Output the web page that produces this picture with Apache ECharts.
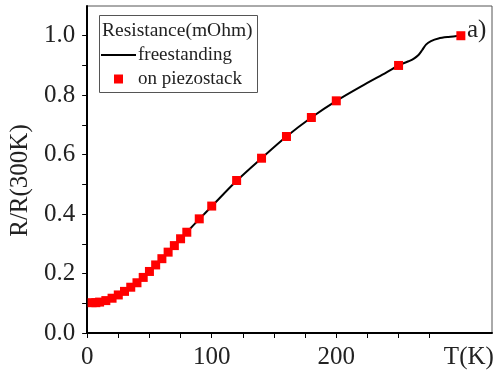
<!DOCTYPE html>
<html>
<head>
<meta charset="utf-8">
<script src="https://cdn.jsdelivr.net/npm/echarts@6/dist/echarts.min.js"></script>
<style>
  html, body { margin: 0; padding: 0; background: #fff; }
  #chart { width: 497px; height: 374px; }
</style>
</head>
<body>
<div id="chart"></div>
<script>
// freestanding sample (black line)
const LINE_T = [2, 10, 20, 30, 40, 50, 60, 70, 80, 90, 100, 120, 140, 160, 180, 200, 220, 240, 252, 258, 262, 266, 269, 272, 276, 282, 290, 300];
const LINE_R = [0.100, 0.103, 0.117, 0.140, 0.170, 0.207, 0.250, 0.294, 0.339, 0.383, 0.426, 0.512, 0.588, 0.661, 0.725, 0.781, 0.830, 0.876, 0.904, 0.914, 0.922, 0.935, 0.952, 0.970, 0.982, 0.991, 0.996, 1.000];

// on piezostack (red squares)
const PIEZO_T = [4, 7, 10, 15, 20, 25, 30, 35, 40, 45, 50, 55, 60, 65, 70, 75, 80, 90, 100, 120, 140, 160, 180, 200, 250, 300];
const PIEZO_R = [0.102, 0.102, 0.104, 0.109, 0.117, 0.128, 0.140, 0.154, 0.169, 0.187, 0.207, 0.229, 0.250, 0.272, 0.294, 0.317, 0.339, 0.384, 0.427, 0.513, 0.588, 0.661, 0.725, 0.781, 0.900, 1.000];

const X_LABELS = [0, 100, 200, 300];
const X_TICKS = [0, 25, 50, 75, 100, 125, 150, 175, 200, 225, 250, 275];
const Y_LABELS = [0, 0.2, 0.4, 0.6, 0.8, 1.0];
const Y_TICKS = [0, 0.1, 0.2, 0.3, 0.4, 0.5, 0.6, 0.7, 0.8, 0.9, 1.0];

const SERIF = '"Liberation Serif", "Times New Roman", "DejaVu Serif", serif';

const chart = echarts.init(document.getElementById('chart'));
chart.setOption({
  animation: false,
  backgroundColor: '#fff',
  grid: {
    left: 85, right: 5, top: 6, bottom: 41,
    show: true, borderColor: '#555', borderWidth: 1
  },
  xAxis: {
    type: 'value', min: 0, max: 325,
    axisLine: { lineStyle: { color: '#000', width: 2 } },
    axisTick: { customValues: X_TICKS, length: 5, lineStyle: { color: '#000', width: 1 } },
    axisLabel: {
      customValues: X_LABELS,
      margin: 12,
      fontFamily: SERIF, fontSize: 25, color: '#222',
      formatter: v => v === 300 ? '{u|T(K)}' : String(v),
      rich: { u: { fontFamily: SERIF, fontSize: 25, color: '#222', padding: [0, 0, 0, 16] } }
    },
    splitLine: { show: false }
  },
  yAxis: {
    type: 'value', min: 0, max: 1.1,
    name: 'R/R(300K)', nameLocation: 'middle', nameGap: 48,
    nameTextStyle: { fontFamily: SERIF, fontSize: 25, color: '#222', padding: [0, 22, 0, 0] },
    axisLine: { lineStyle: { color: '#000', width: 2 } },
    axisTick: { customValues: Y_TICKS, length: 5, lineStyle: { color: '#000', width: 1 } },
    axisLabel: {
      customValues: Y_LABELS,
      margin: 12,
      fontFamily: SERIF, fontSize: 25, color: '#222',
      formatter: v => v.toFixed(1)
    },
    splitLine: { show: false }
  },
  legend: {
    orient: 'vertical', left: 101, top: 44, padding: 0,
    itemWidth: 35, itemHeight: 9, itemGap: 2,
    textStyle: { fontFamily: SERIF, fontSize: 19, color: '#222', lineHeight: 22, padding: [0, 0, 0, -3] },
    data: [
      { name: 'freestanding', icon: 'path://M0 0H35V2H0Z', itemStyle: { color: '#000', opacity: 1 } },
      { name: 'on piezostack', icon: 'path://M0 0H9V9H0Z', itemStyle: { color: '#ff0000', opacity: 1 } }
    ]
  },
  graphic: [
    { type: 'rect', shape: { x: 99.5, y: 15.5, width: 158, height: 77 },
      style: { fill: 'none', stroke: '#555', lineWidth: 1 }, z: 10 },
    { type: 'text', x: 102, y: 31,
      style: { text: 'Resistance(mOhm)', font: '19.5px "Liberation Serif", "Times New Roman", serif', fill: '#222', verticalAlign: 'middle' }, z: 10 },
    { type: 'text', x: 467, y: 30,
      style: { text: 'a)', font: '25px "Liberation Serif", "Times New Roman", serif', fill: '#222', verticalAlign: 'middle' }, z: 10 }
  ],
  series: [
    {
      name: 'freestanding', type: 'line',
      data: LINE_T.map((t, i) => [t, LINE_R[i]]),
      smooth: 0.3, symbol: 'none', showSymbol: false,
      lineStyle: { color: '#000', width: 2 }, itemStyle: { color: '#000' },
      z: 2
    },
    {
      name: 'on piezostack', type: 'scatter',
      data: PIEZO_T.map((t, i) => [t, PIEZO_R[i]]),
      symbol: 'rect', symbolSize: 9,
      itemStyle: { color: '#ff0000', opacity: 1 },
      z: 3
    }
  ]
});
</script>
</body>
</html>
